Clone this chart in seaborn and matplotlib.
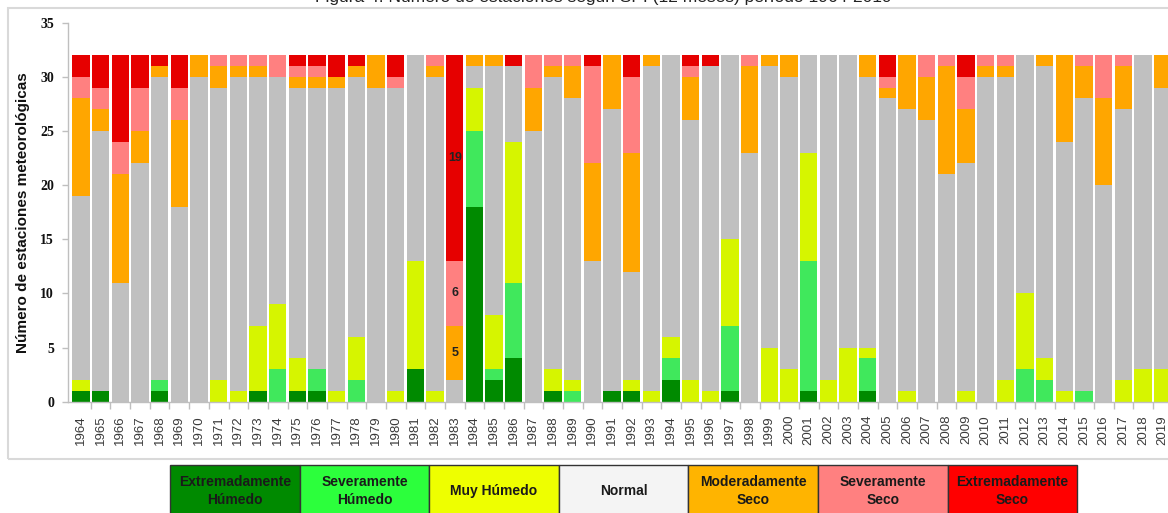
import numpy as np
import pandas as pd
import matplotlib
matplotlib.use("Agg")
import matplotlib.pyplot as plt
import seaborn as sns
from matplotlib.patches import Rectangle

years = [1964, 1965, 1966, 1967, 1968, 1969, 1970, 1971, 1972, 1973, 1974, 1975, 1976, 1977,
         1978, 1979, 1980, 1981, 1982, 1983, 1984, 1985, 1986, 1987, 1988, 1989, 1990, 1991,
         1992, 1993, 1994, 1995, 1996, 1997, 1998, 1999, 2000, 2001, 2002, 2003, 2004, 2005,
         2006, 2007, 2008, 2009, 2010, 2011, 2012, 2013, 2014, 2015, 2016, 2017, 2018, 2019]

ext_humedo = [1, 1, 0, 0, 1, 0, 0, 0, 0, 1, 0, 1, 1, 0,
              0, 0, 0, 3, 0, 0, 18, 2, 4, 0, 1, 0, 0, 1,
              1, 0, 2, 0, 0, 1, 0, 0, 0, 1, 0, 0, 1, 0,
              0, 0, 0, 0, 0, 0, 0, 0, 0, 0, 0, 0, 0, 0]
sev_humedo = [0, 0, 0, 0, 1, 0, 0, 0, 0, 0, 3, 0, 2, 0,
              2, 0, 0, 0, 0, 0, 7, 1, 7, 0, 0, 1, 0, 0,
              0, 0, 2, 0, 0, 6, 0, 0, 0, 12, 0, 0, 3, 0,
              0, 0, 0, 0, 0, 0, 3, 2, 0, 1, 0, 0, 0, 0]
muy_humedo = [1, 0, 0, 0, 0, 0, 0, 2, 1, 6, 6, 3, 0, 1,
              4, 0, 1, 10, 1, 0, 4, 5, 13, 0, 2, 1, 0, 0,
              1, 1, 2, 2, 1, 8, 0, 5, 3, 10, 2, 5, 1, 0,
              1, 0, 0, 1, 0, 2, 7, 2, 1, 0, 0, 2, 3, 3]
normal = [17, 24, 11, 22, 28, 18, 30, 27, 29, 23, 21, 25, 26, 28,
          24, 29, 28, 19, 29, 2, 2, 23, 7, 25, 27, 26, 13, 26,
          10, 30, 26, 24, 30, 17, 23, 26, 27, 9, 30, 27, 25, 28,
          26, 26, 21, 21, 30, 28, 22, 27, 23, 27, 20, 25, 29, 26]
mod_seco = [9, 2, 10, 3, 1, 8, 2, 2, 1, 1, 0, 1, 1, 1,
            1, 3, 0, 0, 1, 5, 1, 1, 0, 4, 1, 3, 9, 5,
            11, 1, 0, 4, 0, 0, 8, 1, 2, 0, 0, 0, 2, 1,
            5, 4, 10, 5, 1, 1, 0, 1, 8, 3, 8, 4, 0, 3]
sev_seco = [2, 2, 3, 4, 0, 3, 0, 1, 1, 1, 2, 1, 1, 0,
            0, 0, 1, 0, 1, 6, 0, 0, 0, 3, 1, 1, 9, 0,
            7, 0, 0, 1, 0, 0, 1, 0, 0, 0, 0, 0, 0, 1,
            0, 2, 1, 3, 1, 1, 0, 0, 0, 1, 4, 1, 0, 0]
ext_seco = [2, 3, 8, 3, 1, 3, 0, 0, 0, 0, 0, 1, 1, 2,
            1, 0, 2, 0, 0, 19, 0, 0, 1, 0, 0, 0, 1, 0,
            2, 0, 0, 1, 1, 0, 0, 0, 0, 0, 0, 0, 0, 2,
            0, 0, 0, 2, 0, 0, 0, 0, 0, 0, 0, 0, 0, 0]

categories = ["Extremadamente\nHúmedo", "Severamente\nHúmedo", "Muy Húmedo", "Normal",
              "Moderadamente\nSeco", "Severamente\nSeco", "Extremadamente\nSeco"]
bar_colors = ["#008a00", "#40e85c", "#d6f500", "#c0c0c0", "#ffa600", "#ff8080", "#e60000"]
legend_colors = ["#008a00", "#2cff3c", "#eeff00", "#f4f4f4", "#ffb400", "#ff8080", "#ff0000"]
annot_year = 1983
title = "Figura 4. Número de estaciones según SPI (12 meses) período 1964-2019"

series = [ext_humedo, sev_humedo, muy_humedo, normal, mod_seco, sev_seco, ext_seco]
labels = [str(y) for y in years]
df = pd.DataFrame({c: s for c, s in zip(categories, series)}, index=labels)
cum = df.cumsum(axis=1)

fig = plt.figure(figsize=(11.68, 5.13), dpi=100)
W, H = 1168, 513
ax = fig.add_axes([68 / W, (H - 401.7) / H, (1175 - 68) / W, (401.7 - 22.5) / H])

for k in range(len(categories) - 1, -1, -1):
    sns.barplot(x=labels, y=cum.iloc[:, k].values, order=labels, color=bar_colors[k],
                saturation=1, width=0.88, linewidth=0, errorbar=None, ax=ax)

# annotations for 1983
i = labels.index(str(annot_year))
for k in (4, 5, 6):
    v = df.iloc[i, k]
    base = cum.iloc[i, k - 1]
    ax.text(i, base + v / 2, str(v), ha="center", va="center", fontsize=9,
            fontweight="bold", color="#222222", family=["Liberation Sans Narrow", "Liberation Sans"])

ax.set_xlim(-0.66, len(labels) - 0.38)
ax.set_ylim(0, 35)
ax.set_yticks(range(0, 36, 5))
ax.set_xlabel("")
ax.set_ylabel("")
for s in ("top", "right"):
    ax.spines[s].set_visible(False)
for s in ("left", "bottom"):
    ax.spines[s].set_color("#bfbfbf")
    ax.spines[s].set_linewidth(1)

ax.tick_params(axis="y", length=4, width=1, color="#bfbfbf", pad=6)
for t in ax.get_yticklabels():
    t.set_fontfamily(["Liberation Serif", "DejaVu Serif"])
    t.set_fontweight("bold")
    t.set_fontsize(10)
    t.set_color("#111111")
ax.set_xticks(np.arange(len(labels)) + 0.5, minor=True)
ax.tick_params(axis="x", which="minor", length=5, width=1, color="#bfbfbf")
ax.tick_params(axis="x", which="major", length=0, pad=9.5)
ax.set_xticks(range(len(labels)))
ax.set_xticklabels(labels, rotation=90, fontsize=9.5, color="#3a3a3a",
                   family=["Liberation Sans", "DejaVu Sans"])

fig.text(23 / W, 1 - 213 / H, "Número de estaciones meteorológicas", rotation=90,
         ha="center", va="center", fontsize=11, fontweight="bold", color="#111111",
         family=["Liberation Sans Narrow", "Liberation Sans"])

# title, mostly above the top edge as in the reference
fig.text(0.517, 1 - 1.8 / H, title, ha="center", va="baseline", fontsize=12.5,
         color="#222222", family=["Liberation Sans", "DejaVu Sans"])

# outer frame
fig.add_artist(Rectangle((8 / W, (H - 459) / H), 1.2, (459 - 8) / H, transform=fig.transFigure,
                         fill=False, edgecolor="#d9d9d9", linewidth=1.5))

# legend boxes
x0, bw = 170, 129.6
for k, (lab, col) in enumerate(zip(categories, legend_colors)):
    fig.add_artist(Rectangle(((x0 + k * bw) / W, -0.05), bw / W, (H - 465) / H + 0.05,
                             transform=fig.transFigure, facecolor=col, edgecolor="#333333",
                             linewidth=1))
    fig.text((x0 + (k + 0.5) * bw) / W, 1 - 491 / H, lab, ha="center", va="center",
             fontsize=10, fontweight="bold", color="#1a1a1a", linespacing=1.35,
             family=["Liberation Sans Narrow", "Liberation Sans"])

fig.savefig("out.png", dpi=100)
